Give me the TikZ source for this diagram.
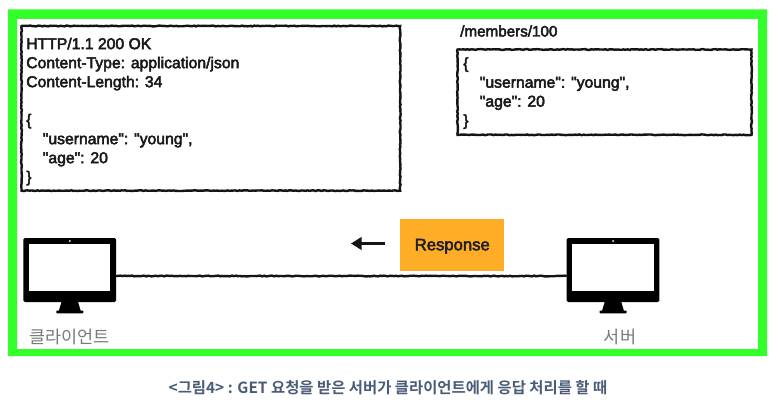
\documentclass[tikz,border=0pt]{standalone}
\usepackage{fontspec}
\setmainfont{Liberation Sans}
\newfontfamily\bodyfont[FakeBold=3]{Liberation Sans}
\newfontfamily\krfont{Noto Sans CJK KR}
\newfontfamily\krbold{Noto Sans CJK KR Bold}
\usetikzlibrary{decorations.pathmorphing,calc,arrows.meta}
\definecolor{framegreen}{HTML}{33FF2B}
\definecolor{respfill}{HTML}{FFAC26}
\definecolor{labelgray}{HTML}{7A7A7A}
\definecolor{capblue}{HTML}{4A5B78}
\tikzset{
  rough/.style={decorate,decoration={random steps,segment length=1.5pt,amplitude=0.3pt},line width=1.8pt,black!92},
  textbox/.style={rough,draw,inner sep=0pt,outer sep=0pt,anchor=north west},
  bodytext/.style={inner sep=0pt,align=left,anchor=north west,font=\bodyfont\fontsize{11.8pt}{14.25pt}\selectfont,text=black!90},
  monitor/.style={fill=black,rounded corners=1pt,minimum width=69.4pt,minimum height=48pt,inner sep=0pt,outer sep=0pt},
  screen/.style={fill=white,minimum width=61pt,minimum height=35.2pt,inner sep=0pt,outer sep=0pt},
  caption/.style={font=\krbold\fontsize{11.55pt}{13pt}\selectfont,text=capblue,inner sep=0pt},
  devlabel/.style={font=\krfont\fontsize{13.1pt}{16pt}\selectfont,text=labelgray,inner sep=0pt},
}
\begin{document}
\begin{tikzpicture}[x=0.75pt,y=-0.75pt]
\useasboundingbox (0,0) rectangle (778,406);
\fill[white] (0,0) rectangle (778,406);
% frame
\fill[framegreen,even odd rule] (8,9.5) rectangle (767,356) (17,19) rectangle (758,349);
% left box
\node[textbox,minimum width=284pt,minimum height=123.5pt] (respbox) at (21.5,26) {};
\node[bodytext] (resptext) at (26,37.5) {HTTP/1.1 200 OK\\Content-Type: application/json\\Content-Length: 34\\[14.25pt]\{\\\hspace*{12.4pt}"username": "young",\\\hspace*{12.4pt}"age": 20\\\}};
% right box
\node[inner sep=0pt,anchor=base west,font=\bodyfont\fontsize{11.4pt}{14.25pt}\selectfont,text=black!90] (path) at (460,36.5) {/members/100};
\node[textbox,minimum width=220.5pt,minimum height=64pt] (resource) at (457.5,49.5) {};
\node[bodytext] (restext) at (463,57) {\{\\\hspace*{12.4pt}"username": "young",\\\hspace*{12.4pt}"age": 20\\\}};
% monitors
\node[monitor] (client) at (69.75,270) {};
\node[monitor] (server) at (613,270) {};
\node[screen] (clientscreen) at (69.75,267.5) {};
\node[screen] (serverscreen) at (613,267.5) {};
\foreach \m in {client,server}{
  \fill[black] ($(\m.center)+(-8,31)$) -- ++(16,0) -- ++(3,10) -- ++(-22,0) -- cycle;
  \fill[black,rounded corners=0.5pt] ($(\m.center)+(-13.5,40.5)$) rectangle ++(27,2.8);
  \fill[white] ($(\m.center)+(0,-29)$) circle (0.75pt);
}
% connector
\draw[rough] ($(client.east)+(0,6)$) -- ($(server.west)+(0,6)$);
% response
\node[fill=respfill,minimum width=78pt,minimum height=39pt,inner sep=0pt,anchor=north west] (response) at (400,218.5) {};
\node[inner sep=0pt,font=\bodyfont\fontsize{12.5pt}{14pt}\selectfont,text=black!88] (resplabel) at ($(response.center)+(0,1.5)$) {Response};
\coordinate (arrowstart) at (385,243.5);
\coordinate (arrowend) at (351,243.5);
\draw[line width=1.7pt,black!92,-{Triangle[length=8pt,width=9.5pt]}] (arrowstart) -- (arrowend);
% labels
\node[devlabel] (clientlabel) at (69.5,336.5) {클라이언트};
\node[devlabel] (serverlabel) at (620,336.5) {서버};
\node[caption] (cap) at (388,387.5) {<그림4> : GET 요청을 받은 서버가 클라이언트에게 응답 처리를 할 때};
\end{tikzpicture}
\end{document}
